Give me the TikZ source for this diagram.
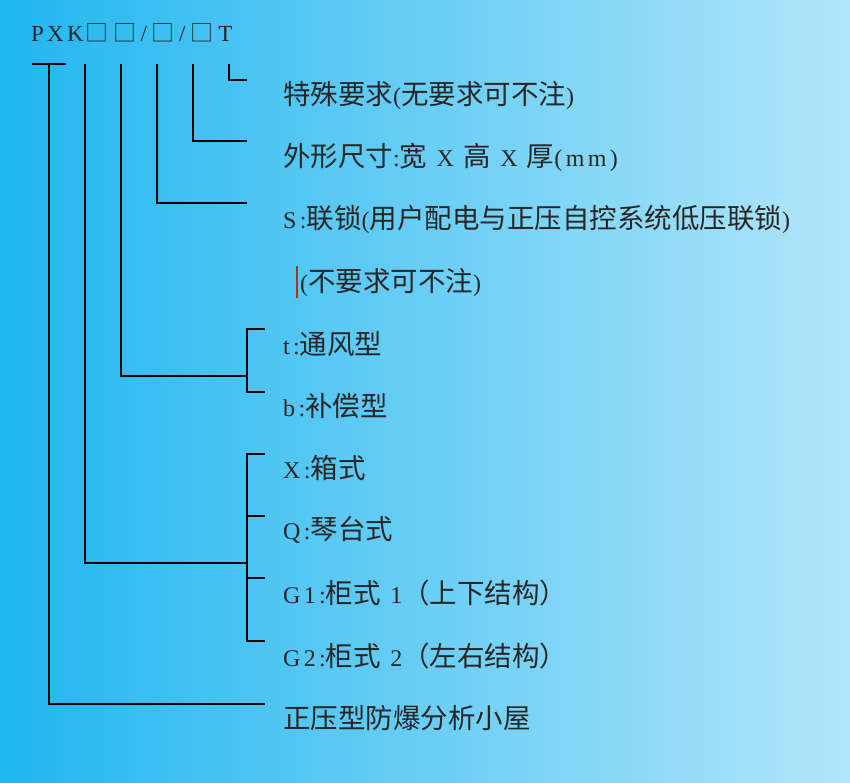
\documentclass[tikz,border=0pt]{standalone}
\usepackage{fontspec}
\setmainfont{Liberation Serif}[LetterSpace=14]
\newfontfamily\cjk{Noto Sans CJK SC}
\newcommand{\zh}[1]{{\cjk\fontsize{27.5}{30}\selectfont #1}}
\definecolor{bgl}{RGB}{32,182,240}
\definecolor{bgr}{RGB}{178,230,250}
\begin{document}
\begin{tikzpicture}[x=1pt,y=-1pt,
  ln/.style={line width=1.6pt,black},
  lbl/.style={anchor=west,inner sep=0pt,font=\fontsize{24}{28}\selectfont,text=black!85}]
\shade[left color=bgl,right color=bgr] (0,0) rectangle (850,782);
\useasboundingbox (0,0) rectangle (850,782);
\node[anchor=west,inner sep=0pt,font=\fontsize{23}{26}\selectfont,text=black!85] (hdr) at (31,33) {PXK\hspace{2pt}{\cjk□\hspace{5pt}□}\hspace{4pt}/\hspace{4pt}{\cjk□}\hspace{5pt}/\hspace{5pt}{\cjk□}\hspace{5pt}T};
\coordinate (t1) at (49,64); \coordinate (t2) at (85,64); \coordinate (t3) at (121,64);
\coordinate (t4) at (157,64); \coordinate (t5) at (193,64); \coordinate (t6) at (229,64);
\draw[ln] (32,64) -- (66,64);
\draw[ln] (t1) |- (265,704);
\draw[ln] (t2) |- (247,563);
\draw[ln] (t3) |- (247,376);
\draw[ln] (t4) |- (247,203);
\draw[ln] (t5) |- (247,141);
\draw[ln] (t6) |- (247,80);
\draw[ln] (265,329) -- (247,329) -- (247,392) -- (265,392);
\draw[ln] (265,454) -- (247,454) -- (247,641) -- (265,641);
\draw[ln] (247,516) -- (265,516);
\draw[ln] (247,578) -- (265,578);
\node[lbl] (l1) at (283,95) {\zh{特殊要求}(\zh{无要求可不注})};
\node[lbl] (l2) at (283,157) {\zh{外形尺寸}:\zh{宽} X \zh{高} X \zh{厚}(mm)};
\node[lbl] (l3) at (283,219) {S:\zh{联锁}(\zh{用户配电与正压自控系统低压联锁})};
\node[lbl] (l4) at (300,282) {(\zh{不要求可不注})};
\draw[line width=1.5pt,color={rgb,255:red,170;green,50;blue,30}] (297,266) -- (297,298);
\node[lbl] (l5) at (283,344) {t:\zh{通风型}};
\node[lbl] (l6) at (283,406) {b:\zh{补偿型}};
\node[lbl] (l7) at (283,468) {X:\zh{箱式}};
\node[lbl] (l8) at (283,530) {Q:\zh{琴台式}};
\node[lbl] (l9) at (283,593) {G1:\zh{柜式} 1\zh{（上下结构）}};
\node[lbl] (l10) at (283,656) {G2:\zh{柜式} 2\zh{（左右结构）}};
\node[lbl] (l11) at (283,718) {\zh{正压型防爆分析小屋}};
\end{tikzpicture}
\end{document}
